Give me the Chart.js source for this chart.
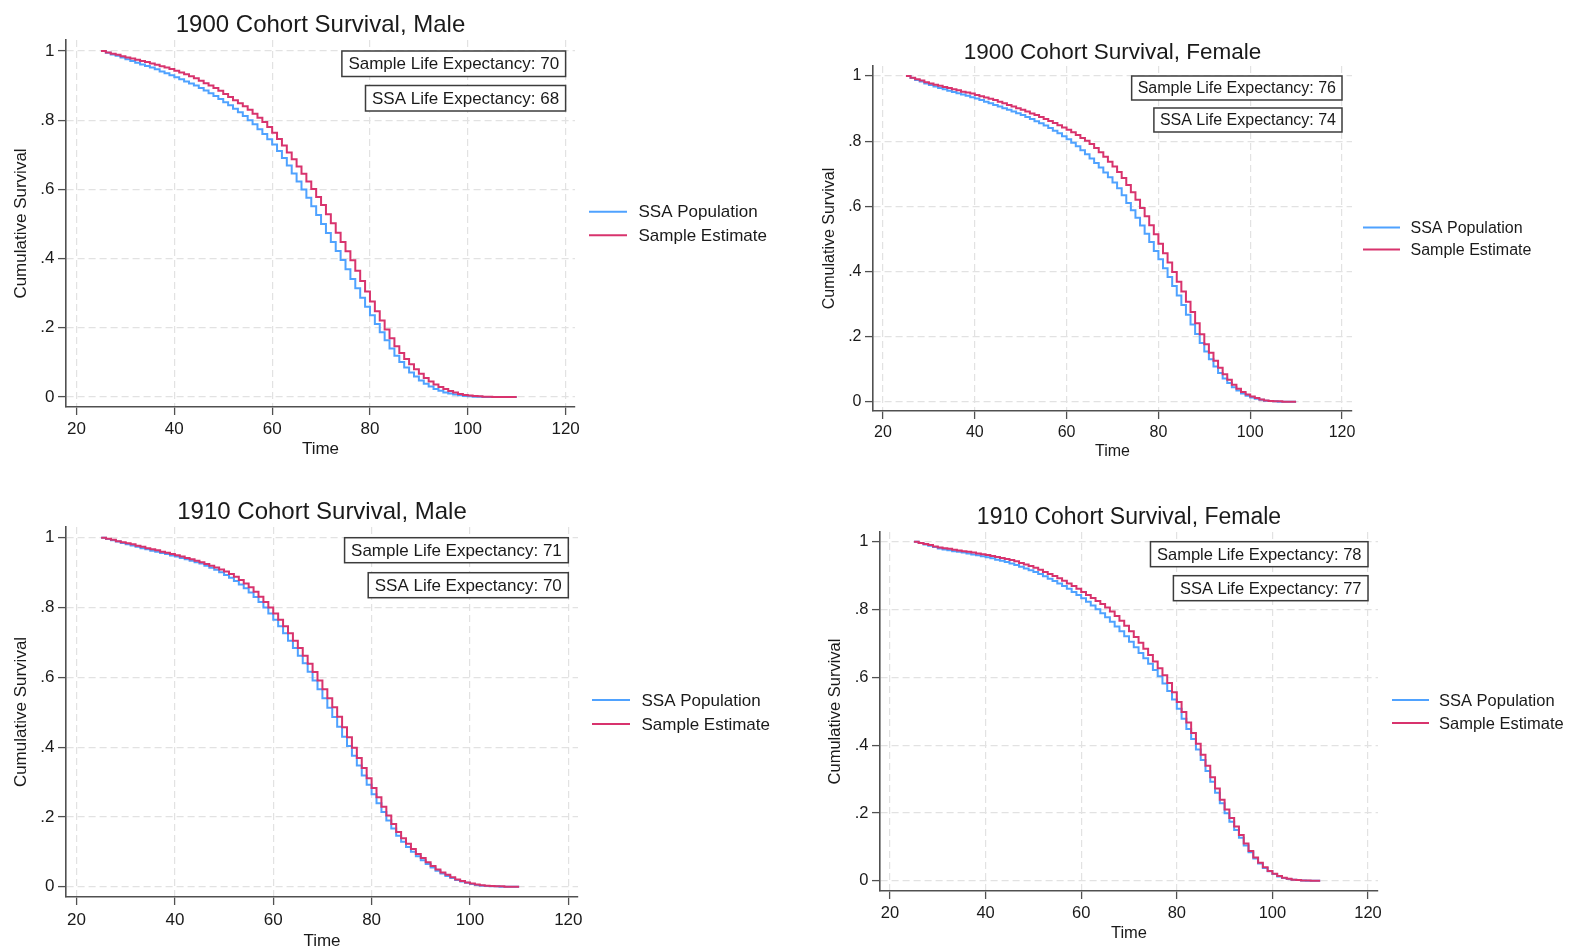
<!DOCTYPE html>
<html>
<head>
<meta charset="utf-8">
<script src="https://cdn.jsdelivr.net/npm/chart.js@4.4.1/dist/chart.umd.min.js"></script>
<style>
html,body{margin:0;padding:0;background:#fff;overflow:hidden;}
#wrap{position:relative;width:1570px;height:948px;overflow:hidden;background:#fff;}
#wrap canvas{position:absolute;}
</style>
</head>
<body>
<div id="wrap"></div>
<script>
// ---------------- DATA ----------------
const ages = [25,26,27,28,29,30,31,32,33,34,35,36,37,38,39,40,41,42,43,44,45,46,47,48,49,50,51,52,53,54,
  55,56,57,58,59,60,61,62,63,64,65,66,67,68,69,70,71,72,73,74,75,76,77,78,79,80,81,82,83,84,
  85,86,87,88,89,90,91,92,93,94,95,96,97,98,99,100,101,102,103,104,105,106,107,108,109,110];

const xTickValues = [20,40,60,80,100,120];
const xTickLabels = ['20','40','60','80','100','120'];
const yTickValues = [0,0.2,0.4,0.6,0.8,1];
const yTickLabels = ['0','.2','.4','.6','.8','1'];

const seriesNames = ['SSA Population','Sample Estimate'];
const panelTitles = ['1900 Cohort Survival, Male','1900 Cohort Survival, Female','1910 Cohort Survival, Male','1910 Cohort Survival, Female'];
const sampleLifeExpectancy = [70,76,71,78];
const ssaLifeExpectancy = [68,74,70,77];

const ssa1900Male = [1.000,0.995,0.990,0.986,0.981,0.976,0.971,0.966,0.961,0.957,
  0.952,0.947,0.941,0.936,0.930,0.924,0.918,0.912,0.906,0.900,
  0.893,0.886,0.878,0.870,0.861,0.852,0.843,0.833,0.823,0.812,
  0.800,0.788,0.774,0.760,0.745,0.730,0.711,0.691,0.669,0.646,
  0.623,0.600,0.576,0.551,0.526,0.500,0.474,0.448,0.422,0.396,
  0.369,0.341,0.314,0.287,0.261,0.236,0.211,0.187,0.164,0.140,
  0.119,0.101,0.085,0.071,0.059,0.048,0.038,0.030,0.023,0.018,
  0.013,0.010,0.007,0.005,0.003,0.002,0.001,0.001,0,0,
  0,0,0,0,0,0];
const sample1900Male = [1.000,0.996,0.992,0.989,0.985,0.981,0.978,0.975,0.971,0.968,
  0.964,0.960,0.956,0.952,0.948,0.943,0.938,0.933,0.927,0.921,
  0.914,0.907,0.900,0.893,0.885,0.876,0.867,0.858,0.849,0.840,
  0.830,0.819,0.807,0.795,0.780,0.764,0.746,0.727,0.707,0.687,
  0.666,0.645,0.623,0.601,0.578,0.555,0.528,0.502,0.475,0.448,
  0.421,0.395,0.365,0.335,0.305,0.276,0.248,0.221,0.195,0.170,
  0.147,0.127,0.110,0.095,0.080,0.067,0.055,0.045,0.036,0.029,
  0.023,0.017,0.013,0.009,0.006,0.004,0.003,0.002,0.001,0.001,
  0,0,0,0,0,0];

const ssa1900Female = [1.000,0.994,0.988,0.983,0.977,0.972,0.968,0.963,0.959,0.955,
  0.951,0.947,0.943,0.939,0.935,0.931,0.926,0.921,0.916,0.911,
  0.906,0.901,0.896,0.891,0.886,0.880,0.874,0.868,0.861,0.855,
  0.848,0.840,0.832,0.824,0.815,0.806,0.795,0.784,0.772,0.760,
  0.747,0.733,0.719,0.704,0.689,0.673,0.655,0.634,0.610,0.588,
  0.565,0.541,0.516,0.490,0.463,0.437,0.410,0.383,0.355,0.326,
  0.297,0.267,0.237,0.208,0.180,0.154,0.130,0.108,0.088,0.071,
  0.057,0.044,0.034,0.025,0.018,0.013,0.009,0.006,0.003,0.002,
  0.001,0,0,0,0,0];
const sample1900Female = [1.000,0.995,0.990,0.986,0.981,0.977,0.973,0.970,0.966,0.963,
  0.959,0.956,0.952,0.949,0.946,0.942,0.938,0.934,0.930,0.926,
  0.921,0.916,0.911,0.906,0.901,0.896,0.891,0.885,0.880,0.874,
  0.868,0.862,0.856,0.849,0.842,0.835,0.827,0.819,0.810,0.801,
  0.791,0.779,0.766,0.752,0.737,0.722,0.705,0.687,0.665,0.643,
  0.620,0.595,0.569,0.542,0.514,0.485,0.456,0.427,0.398,0.368,
  0.338,0.307,0.275,0.241,0.207,0.176,0.150,0.126,0.104,0.084,
  0.067,0.052,0.040,0.030,0.022,0.016,0.011,0.007,0.004,0.002,
  0.001,0.001,0,0,0,0];

const ssa1910Male = [1.000,0.996,0.993,0.989,0.985,0.981,0.978,0.974,0.970,0.967,
  0.963,0.960,0.956,0.953,0.949,0.946,0.942,0.938,0.934,0.930,
  0.926,0.920,0.914,0.908,0.901,0.893,0.885,0.876,0.866,0.855,
  0.843,0.830,0.816,0.800,0.783,0.765,0.746,0.726,0.705,0.684,
  0.662,0.640,0.616,0.591,0.566,0.540,0.513,0.486,0.458,0.430,
  0.403,0.375,0.347,0.319,0.292,0.265,0.239,0.214,0.190,0.167,
  0.146,0.129,0.114,0.100,0.087,0.076,0.065,0.055,0.046,0.038,
  0.031,0.025,0.019,0.015,0.011,0.008,0.005,0.003,0.002,0.001,
  0.001,0,0,0,0,0];
const sample1910Male = [1.000,0.997,0.994,0.990,0.987,0.984,0.981,0.977,0.974,0.970,
  0.967,0.964,0.960,0.957,0.953,0.950,0.946,0.942,0.938,0.934,
  0.930,0.925,0.920,0.915,0.909,0.903,0.896,0.888,0.879,0.869,
  0.858,0.845,0.831,0.816,0.800,0.783,0.765,0.746,0.726,0.705,
  0.684,0.662,0.639,0.615,0.591,0.566,0.540,0.514,0.487,0.457,
  0.428,0.398,0.369,0.340,0.311,0.283,0.256,0.229,0.204,0.180,
  0.157,0.139,0.123,0.108,0.094,0.082,0.070,0.059,0.049,0.041,
  0.034,0.027,0.021,0.016,0.012,0.009,0.006,0.004,0.003,0.002,
  0.001,0.001,0,0,0,0];

const ssa1910Female = [1.000,0.996,0.992,0.988,0.984,0.980,0.977,0.975,0.972,0.970,
  0.968,0.965,0.962,0.960,0.957,0.954,0.951,0.947,0.944,0.940,
  0.936,0.931,0.926,0.921,0.916,0.911,0.905,0.898,0.891,0.884,
  0.877,0.869,0.861,0.852,0.843,0.833,0.823,0.812,0.801,0.789,
  0.777,0.764,0.750,0.736,0.721,0.705,0.689,0.672,0.656,0.640,
  0.622,0.603,0.582,0.560,0.535,0.507,0.478,0.448,0.418,0.387,
  0.356,0.324,0.292,0.260,0.229,0.199,0.174,0.150,0.127,0.104,
  0.084,0.066,0.051,0.038,0.028,0.020,0.013,0.008,0.005,0.003,
  0.002,0.001,0,0,0,0];
const sample1910Female = [1.000,0.996,0.993,0.990,0.986,0.983,0.981,0.979,0.976,0.974,
  0.972,0.970,0.968,0.965,0.963,0.961,0.958,0.955,0.952,0.949,
  0.946,0.942,0.937,0.933,0.928,0.923,0.917,0.911,0.905,0.899,
  0.892,0.885,0.877,0.869,0.861,0.852,0.843,0.834,0.825,0.816,
  0.806,0.794,0.781,0.767,0.752,0.736,0.719,0.702,0.684,0.666,
  0.647,0.627,0.606,0.583,0.556,0.527,0.498,0.467,0.436,0.404,
  0.372,0.339,0.305,0.272,0.239,0.210,0.185,0.160,0.135,0.110,
  0.088,0.069,0.053,0.040,0.029,0.021,0.014,0.009,0.006,0.003,
  0.002,0.001,0.001,0,0,0];

const ssaSeries = [ssa1900Male, ssa1900Female, ssa1910Male, ssa1910Female];
const sampleSeries = [sample1900Male, sample1900Female, sample1910Male, sample1910Female];

// ---------------- LAYOUT / STYLE ----------------
const FONT = '"Liberation Sans", Arial, Helvetica, sans-serif';
const TEXT = '#1a1a1a';
const AXIS = '#505050';
const GRID = '#e2e2e2';
const BLUE = '#4fa2ff';
const PINK = '#d8336d';

const panels = [
  {left:0, top:0, w:785, h:474, L:66, R:575, T:40, B:407, xMin:17.853, xMax:121.92, yMin:-0.0289, yMax:1.0318,
   fs:17, tfs:24, titleCY:26, yTitleCX:21, xTickPad:4.3, timeCY:449.5,
   legGap:14, legLen:38, legTextGap:11.5, legSpacing:23.5, boxH:25.5, boxGap:9, boxPad:6.5},
  {left:785, top:0, w:785, h:474, L:873, R:1352, T:66, B:411, xMin:17.82, xMax:122.18, yMin:-0.0286, yMax:1.0307,
   fs:16, tfs:22.5, titleCY:52.5, yTitleCX:830, xTickPad:4.1, timeCY:451.5,
   legGap:11, legLen:37, legTextGap:10.5, legSpacing:22, boxH:24, boxGap:8, boxPad:6},
  {left:0, top:474, w:785, h:480, L:66, R:578, T:527, B:897, xMin:17.86, xMax:121.97, yMin:-0.0295, yMax:1.0307,
   fs:17, tfs:24, titleCY:512, yTitleCX:21, xTickPad:5, timeCY:941,
   legGap:14, legLen:38, legTextGap:11.5, legSpacing:24, boxH:25, boxGap:10, boxPad:6.5},
  {left:785, top:474, w:785, h:480, L:880, R:1378, T:532, B:891, xMin:17.91, xMax:122.09, yMin:-0.0301, yMax:1.0286,
   fs:16.5, tfs:23, titleCY:518, yTitleCX:835.5, xTickPad:4.2, timeCY:933,
   legGap:14, legLen:37, legTextGap:10, legSpacing:23, boxH:25, boxGap:9, boxPad:6.5}
];

Chart.defaults.font.family = FONT;
Chart.defaults.color = TEXT;

const decorPlugin = {
  id: 'decor',
  afterDraw(chart, args, opts) {
    const {ctx, chartArea: ca, scales} = chart;
    const xs = scales.x, ys = scales.y;
    ctx.save();
    ctx.font = opts.fs + 'px ' + FONT;
    ctx.textBaseline = 'middle';
    ctx.textAlign = 'left';
    // annotation boxes, right-aligned to x=120, starting at y=1
    const right = xs.getPixelForValue(120);
    const top = ys.getPixelForValue(1);
    opts.boxTexts.forEach((t, i) => {
      const w = ctx.measureText(t).width + 2 * opts.boxPad;
      const bx = right - w;
      const by = top + i * (opts.boxH + opts.boxGap);
      ctx.fillStyle = '#ffffff';
      ctx.fillRect(bx, by, w, opts.boxH);
      ctx.strokeStyle = '#3c3c3c';
      ctx.lineWidth = 1.5;
      ctx.strokeRect(bx, by, w, opts.boxH);
      ctx.fillStyle = TEXT;
      ctx.fillText(t, bx + opts.boxPad, by + opts.boxH / 2 + 1);
    });
    // legend at right, centred on plot area
    const cy = (ca.top + ca.bottom) / 2;
    const lx = ca.right + opts.legGap;
    const ds = chart.data.datasets;
    ds.forEach((d, i) => {
      const ly = cy + (i - (ds.length - 1) / 2) * opts.legSpacing;
      ctx.strokeStyle = d.borderColor;
      ctx.lineWidth = 2;
      ctx.beginPath();
      ctx.moveTo(lx, ly);
      ctx.lineTo(lx + opts.legLen, ly);
      ctx.stroke();
      ctx.fillStyle = TEXT;
      ctx.fillText(d.label, lx + opts.legLen + opts.legTextGap, ly + 1);
    });
    ctx.restore();
  }
};

const wrap = document.getElementById('wrap');

panels.forEach((p, k) => {
  const cv = document.createElement('canvas');
  cv.width = p.w; cv.height = p.h;
  cv.style.left = p.left + 'px';
  cv.style.top = p.top + 'px';
  cv.style.width = p.w + 'px';
  cv.style.height = p.h + 'px';
  wrap.appendChild(cv);

  const lhT = p.tfs * 1.2;
  const lhF = p.fs * 1.2;
  const padTop = (p.titleCY - p.top) - lhT / 2;
  const titlePb = Math.max(0, (p.T - p.top) - padTop - lhT);
  const padTop2 = (p.T - p.top) - lhT - titlePb;
  const yW = p.L - p.left;
  const padRight = p.left + p.w - p.R;
  const xH = p.timeCY + lhF / 2 - p.B;
  const padBottom = p.top + p.h - (p.B + xH);
  const yTitlePt = (p.yTitleCX - p.left) - lhF / 2;

  const toXY = arr => ages.map((a, i) => ({x: a, y: arr[i]}));

  new Chart(cv, {
    type: 'line',
    data: {
      datasets: [
        {label: seriesNames[0], data: toXY(ssaSeries[k]), borderColor: BLUE, backgroundColor: BLUE,
         borderWidth: 2, stepped: true, pointRadius: 0, fill: false, order: 1},
        {label: seriesNames[1], data: toXY(sampleSeries[k]), borderColor: PINK, backgroundColor: PINK,
         borderWidth: 2, stepped: true, pointRadius: 0, fill: false, order: 0}
      ]
    },
    options: {
      responsive: false,
      devicePixelRatio: 1,
      animation: false,
      events: [],
      layout: {padding: {top: padTop2, left: 0, right: padRight, bottom: padBottom}},
      plugins: {
        legend: {display: false},
        tooltip: {enabled: false},
        title: {
          display: true, text: panelTitles[k], fullSize: false,
          font: {size: p.tfs, weight: 'normal', family: FONT}, color: TEXT,
          padding: {top: 0, bottom: titlePb}
        },
        decor: {
          fs: p.fs, boxH: p.boxH, boxGap: p.boxGap, boxPad: p.boxPad,
          legGap: p.legGap, legLen: p.legLen, legTextGap: p.legTextGap, legSpacing: p.legSpacing,
          boxTexts: ['Sample Life Expectancy: ' + sampleLifeExpectancy[k], 'SSA Life Expectancy: ' + ssaLifeExpectancy[k]]
        }
      },
      scales: {
        x: {
          type: 'linear', position: 'bottom', min: p.xMin, max: p.xMax,
          afterBuildTicks: s => { s.ticks = xTickValues.map(v => ({value: v})); },
          afterFit: s => { s.height = xH; },
          ticks: {
            autoSkip: false, maxRotation: 0, minRotation: 0, padding: p.xTickPad,
            font: {size: p.fs, family: FONT}, color: TEXT,
            callback: (v, i) => xTickLabels[i]
          },
          grid: {color: GRID, lineWidth: 1.2, drawTicks: true, tickLength: 8, tickColor: AXIS, tickWidth: 1.3, tickBorderDash: []},
          border: {display: true, color: AXIS, width: 1.6, dash: [7, 4]},
          title: {display: true, text: 'Time', font: {size: p.fs, family: FONT}, color: TEXT, padding: {top: 0, bottom: 0}}
        },
        y: {
          type: 'linear', position: 'left', min: p.yMin, max: p.yMax,
          afterBuildTicks: s => { s.ticks = yTickValues.map(v => ({value: v})); },
          afterFit: s => { s.width = yW; },
          ticks: {
            autoSkip: false, padding: 3.5,
            font: {size: p.fs, family: FONT}, color: TEXT,
            callback: (v, i) => yTickLabels[i]
          },
          grid: {color: GRID, lineWidth: 1.2, drawTicks: true, tickLength: 8, tickColor: AXIS, tickWidth: 1.3, tickBorderDash: []},
          border: {display: true, color: AXIS, width: 1.6, dash: [7, 4]},
          title: {display: true, text: 'Cumulative Survival', font: {size: p.fs, family: FONT}, color: TEXT, padding: {top: yTitlePt, bottom: 0}}
        }
      }
    },
    plugins: [decorPlugin]
  });
});
</script>
</body>
</html>
